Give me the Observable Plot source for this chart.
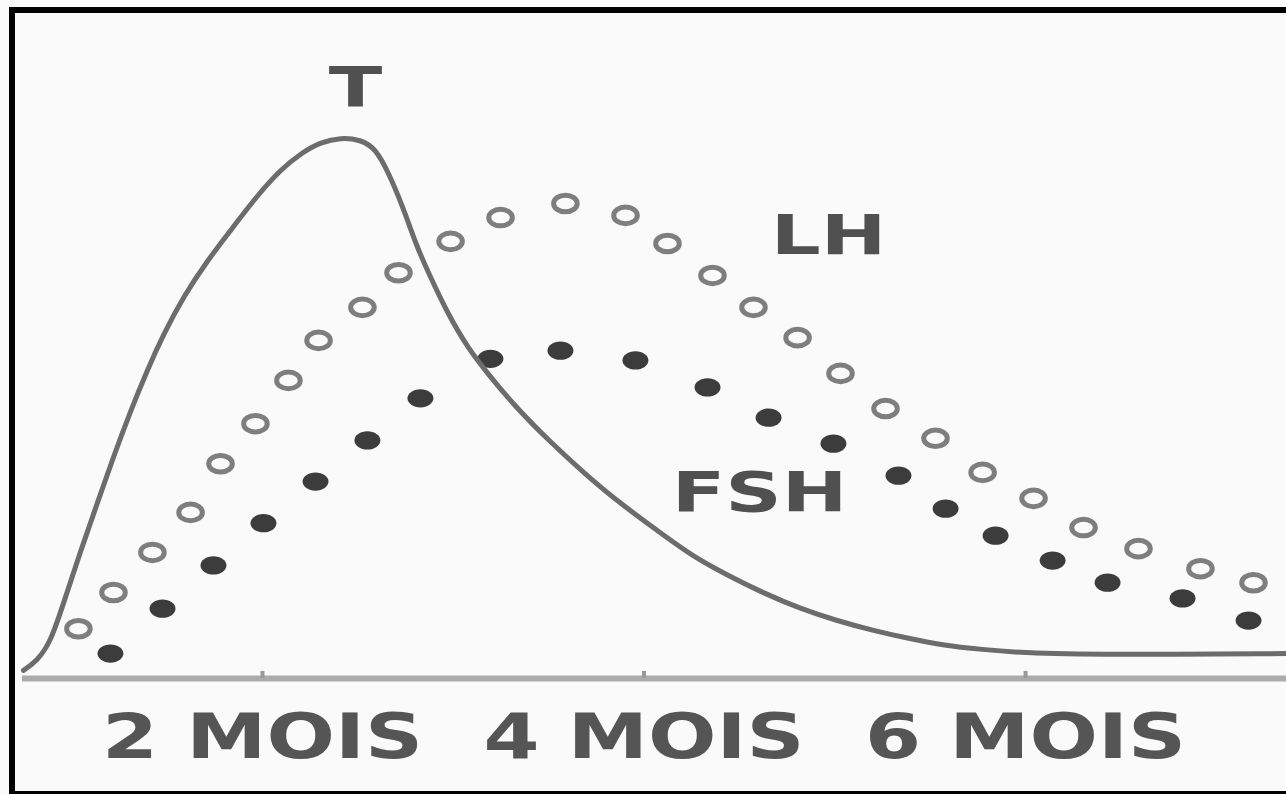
<!DOCTYPE html>
<html><head><meta charset="utf-8">
<script src="https://cdn.jsdelivr.net/npm/d3@7"></script>
<script src="https://cdn.jsdelivr.net/npm/@observablehq/plot@0.6"></script>
<style>
html,body{margin:0;padding:0;background:#fafafa;overflow:hidden;}
#wrap{position:relative;width:1286px;height:794px;overflow:hidden;}
#wrap svg{position:absolute;left:0;top:0;}
#frame{position:absolute;left:9px;top:7px;width:1300px;height:790px;border:6px solid #000;box-sizing:border-box;pointer-events:none;}
</style></head><body><div id="wrap"><div id="frame"></div></div>
<script>
// T (testosterone) curve — months vs relative level
const tMonths = [0.747,0.820,0.889,0.957,1.046,1.135,1.219,1.308,1.397,1.481,1.586,1.712,1.848,1.953,2.094,2.215,2.304,2.409,2.514,2.592,2.661,2.739,2.807,2.870,2.970,3.075,3.180,3.311,3.499,3.688,3.877,4.076,4.254,4.443,4.632,4.820,5.009,5.198,5.387,5.575,5.764,6.011,6.535,7.368];
const tValues = [1.5,3.3,6.7,13.9,23.5,32.5,41.0,49.4,57.1,63.6,70.6,77.3,83.5,88.4,94.1,97.4,99.1,100,99.6,98.0,93.5,86.9,80.0,75.0,67.5,61.2,56.4,50.8,44.0,37.9,32.3,27.2,22.6,19.0,15.7,12.9,10.7,8.9,7.4,6.1,5.4,4.6,4.4,4.6];
// LH open circles
const lhMonths = [1.035,1.219,1.423,1.623,1.780,1.963,2.136,2.294,2.524,2.713,2.986,3.248,3.588,3.903,4.123,4.359,4.574,4.805,5.030,5.266,5.528,5.775,6.042,6.304,6.592,6.917,7.195];
const lhValues = [9.2,15.9,23.3,30.7,39.7,47.1,55.1,62.5,68.6,75.0,80.8,85.2,87.8,85.6,80.4,74.5,68.6,63.0,56.4,49.9,44.4,38.1,33.3,27.9,24.0,20.3,17.7];
// FSH filled dots
const fshMonths = [1.203,1.476,1.743,2.005,2.278,2.550,2.828,3.195,3.562,3.955,4.333,4.653,4.993,5.334,5.581,5.843,6.142,6.430,6.823,7.169];
const fshValues = [4.6,12.9,20.9,28.7,36.4,44.0,51.8,59.1,60.6,58.8,53.8,48.2,43.4,37.5,31.4,26.4,21.8,17.7,14.8,10.7];
// axis ticks
const tickMonths = [2,4,6];
const tickLabels = ["2 MOIS","4 MOIS","6 MOIS"];
// series labels
const seriesNames = ["T","LH","FSH"];
const seriesLabelMonths = [2.488,4.967,4.606];
const seriesLabelValues = [109.1,81.7,34.2];

const T = tMonths.map((m,i)=>({month:m, value:tValues[i]}));
const LH = lhMonths.map((m,i)=>({month:m, value:lhValues[i]}));
const FSH = fshMonths.map((m,i)=>({month:m, value:fshValues[i]}));
const ticks = tickMonths.map((m,i)=>({month:m, label:tickLabels[i], base:0}));
const names = seriesNames.map((n,i)=>({name:n, month:seriesLabelMonths[i], value:seriesLabelValues[i]}));

// flattened ellipse symbol (the printed dots are wider than tall)
const ellipse = {
  draw(ctx, size) {
    const r = Math.sqrt(size / Math.PI), rx = r * 1.18, ry = r * 0.83, k = 0.5523;
    ctx.moveTo(rx, 0);
    ctx.bezierCurveTo(rx, ry*k, rx*k, ry, 0, ry);
    ctx.bezierCurveTo(-rx*k, ry, -rx, ry*k, -rx, 0);
    ctx.bezierCurveTo(-rx, -ry*k, -rx*k, -ry, 0, -ry);
    ctx.bezierCurveTo(rx*k, -ry, rx, -ry*k, rx, 0);
    ctx.closePath();
  }
};

const chart = Plot.plot({
  width:1286, height:794,
  marginLeft:22, marginRight:0, marginTop:137, marginBottom:116,
  x:{domain:[0.742,7.368], axis:null},
  y:{domain:[0,100], axis:null},
  style:{background:"transparent", fontFamily:"'DejaVu Sans', sans-serif"},
  marks:[
    Plot.ruleY([0],{stroke:"#ababab", strokeWidth:6}),
    Plot.ruleX(tickMonths,{y1:0, y2:1.3, stroke:"#999", strokeWidth:4}),
    Plot.dot(LH,{x:"month", y:"value", r:10, symbol:ellipse, stroke:"#7e7e7e", strokeWidth:5, fill:"none"}),
    Plot.dot(FSH,{x:"month", y:"value", r:11, symbol:ellipse, fill:"#3c3c3c", stroke:"none"}),
    Plot.line(T,{x:"month", y:"value", stroke:"#6c6c6c", strokeWidth:5, curve:"basis"}),
    Plot.text(names,{x:"month", y:"value", text:"name", fontSize:56, fontWeight:"bold", fill:"#505050"}),
    Plot.text(ticks,{x:"month", y:"base", text:"label", dy:60, fontSize:62, fontWeight:"bold", fill:"#555"})
  ]
});
const wrap = document.getElementById("wrap");
wrap.insertBefore(chart, document.getElementById("frame"));
d3.select(chart).selectAll("text").each(function(){
  const t = this.textContent;
  const factor = tickLabels.includes(t) ? 1.3 : 1.4;
  const w = this.getComputedTextLength();
  if (w > 0) { this.setAttribute("textLength", w*factor); this.setAttribute("lengthAdjust","spacingAndGlyphs"); }
});
</script></body></html>
